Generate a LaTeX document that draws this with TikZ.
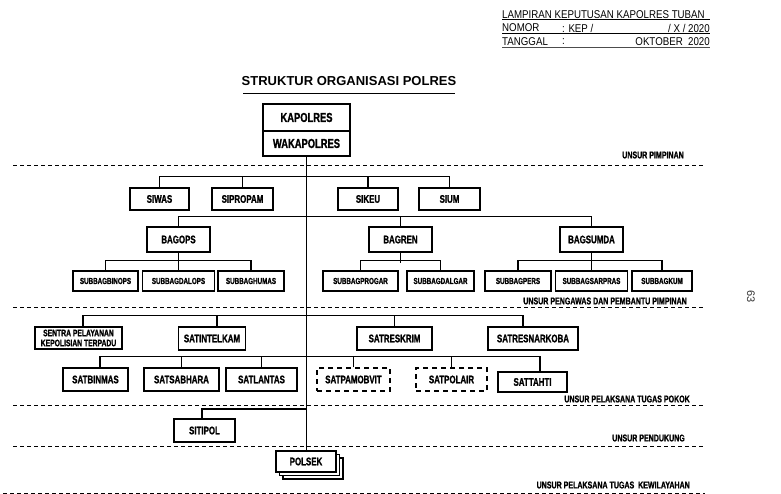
\documentclass[tikz,border=0pt]{standalone}
\usepackage{fontspec}
\setmainfont{Liberation Sans}
\newfontfamily\narrowfont[FakeStretch=0.72, FakeBold=1.2]{Liberation Sans Bold}
\newfontfamily\hdrfont[FakeStretch=0.86]{Liberation Sans}
\begin{document}
\begin{tikzpicture}[x=1pt,y=-1pt,
  box/.style={draw, line width=1.4pt, inner sep=0pt, align=center, fill=white,
    font=\narrowfont\fontsize{11}{12}\selectfont},
  bigbox/.style={box, font=\narrowfont\fontsize{13}{14}\selectfont},
  sbox/.style={box, minimum height=20pt, font=\narrowfont\fontsize{8.7}{9.5}\selectfont},
  dbox/.style={box, dash pattern=on 5pt off 4pt},
  bus/.style={line width=1.1pt},
  sep/.style={line width=0.8pt, dash pattern=on 4pt off 3pt},
  unsur/.style={anchor=east, inner sep=0pt, font=\narrowfont\fontsize{9.8}{10.5}\selectfont},
  hdr/.style={inner sep=0pt, font=\hdrfont\fontsize{11.3}{12}\selectfont}
]
\useasboundingbox (0,0) rectangle (781,494);

% header
\node[hdr, anchor=west] (h1) at (502,15) {LAMPIRAN KEPUTUSAN KAPOLRES TUBAN};
\node[hdr, anchor=west] (h2a) at (502,28) {NOMOR};
\node[hdr, anchor=west] (h2b) at (562,28) {: KEP /};
\node[hdr, anchor=east] (h2c) at (710,28) {/ X / 2020};
\node[hdr, anchor=west] (h3a) at (502,42) {TANGGAL};
\node[hdr, anchor=west] (h3b) at (562,42) {:};
\node[hdr, anchor=east] (h3c) at (710,42) {OKTOBER\ \ 2020};
\draw[line width=0.8pt] (502,19.5) -- (710,19.5);
\draw[line width=0.8pt] (502,33) -- (710,33);
\draw[line width=1.5pt, black!70] (502,47.5) -- (710,47.5);

% title
\node[inner sep=0pt, font=\bfseries\fontsize{13}{15}\selectfont] (title) at (349,81) {STRUKTUR ORGANISASI POLRES};
\draw[line width=0.8pt] (243,93) -- (455,93);

% page number
\node[rotate=-90, inner sep=0pt, font=\fontsize{11}{12}\selectfont, black!80] (pg) at (751,297) {63};

% separators
\draw[sep] (13,165) -- (705,165);
\draw[sep] (13,307) -- (705,307);
\draw[sep] (13,405) -- (705,405);
\draw[sep] (13,446) -- (705,446);
\draw[sep] (3,493) -- (705,493);

\node[unsur] (u1) at (684,155) {UNSUR PIMPINAN};
\node[unsur] (u2) at (687,301) {UNSUR PENGAWAS DAN PEMBANTU PIMPINAN};
\node[unsur] (u3) at (690,399) {UNSUR PELAKSANA TUGAS POKOK};
\node[unsur] (u4) at (685,438) {UNSUR PENDUKUNG};
\node[unsur] (u5) at (690,485) {UNSUR PELAKSANA TUGAS\ \ KEWILAYAHAN};

% pimpinan
\node[bigbox, minimum width=87pt, minimum height=27pt] (kapolres) at (306.5,117.5) {KAPOLRES};
\node[bigbox, minimum width=87pt, minimum height=25pt] (wakapolres) at (306.5,143.5) {WAKAPOLRES};

% row 1
\node[box, minimum width=59pt, minimum height=22pt] (siwas) at (159.5,199) {SIWAS};
\node[box, minimum width=61pt, minimum height=22pt] (sipropam) at (242.5,199) {SIPROPAM};
\node[box, minimum width=60pt, minimum height=22pt] (sikeu) at (368,199) {SIKEU};
\node[box, minimum width=61pt, minimum height=22pt] (sium) at (449.5,199) {SIUM};

% row 2
\node[box, minimum width=63pt, minimum height=25pt] (bagops) at (178.5,239.5) {BAGOPS};
\node[box, minimum width=63pt, minimum height=25pt] (bagren) at (400.5,239.5) {BAGREN};
\node[box, minimum width=63pt, minimum height=25pt] (bagsumda) at (591.5,239.5) {BAGSUMDA};

% sub rows
\node[sbox, minimum width=65pt] (binops) at (105.5,281) {SUBBAGBINOPS};
\node[sbox, minimum width=72pt] (dalops) at (178.5,281) {SUBBAGDALOPS};
\node[sbox, minimum width=66pt] (humas) at (251,281) {SUBBAGHUMAS};
\node[sbox, minimum width=75pt] (progar) at (360.5,281) {SUBBAGPROGAR};
\node[sbox, minimum width=67pt] (dalgar) at (440.5,281) {SUBBAGDALGAR};
\node[sbox, minimum width=66pt] (pers) at (518,281) {SUBBAGPERS};
\node[sbox, minimum width=72pt] (sarpras) at (591.5,281) {SUBBAGSARPRAS};
\node[sbox, minimum width=60pt] (kum) at (662,281) {SUBBAGKUM};

% row 3
\node[box, minimum width=87pt, minimum height=22pt, font=\narrowfont\fontsize{9.4}{10}\selectfont] (sentra) at (78.5,338) {SENTRA PELAYANAN\\KEPOLISIAN TERPADU};
\node[box, minimum width=67pt, minimum height=23pt] (intelkam) at (212,338.5) {SATINTELKAM};
\node[box, minimum width=75pt, minimum height=23pt] (reskrim) at (394.5,338.5) {SATRESKRIM};
\node[box, minimum width=90pt, minimum height=23pt] (narkoba) at (533,338.5) {SATRESNARKOBA};

% row 4
\node[box, minimum width=65pt, minimum height=23pt] (binmas) at (95.5,379.5) {SATBINMAS};
\node[box, minimum width=75pt, minimum height=23pt] (sabhara) at (181.5,379.5) {SATSABHARA};
\node[box, minimum width=71pt, minimum height=23pt] (lantas) at (261.5,379.5) {SATLANTAS};
\node[dbox, minimum width=73pt, minimum height=23pt] (pamobvit) at (353.5,379.5) {SATPAMOBVIT};
\node[dbox, minimum width=71pt, minimum height=23pt] (polair) at (451.5,379.5) {SATPOLAIR};
\node[box, minimum width=69pt, minimum height=20pt] (tahti) at (532.5,382) {SATTAHTI};

% row 5
\node[box, minimum width=61pt, minimum height=23pt] (sitipol) at (204.5,430.5) {SITIPOL};

% polsek stack
\node[box, minimum width=60pt, minimum height=21pt] (polsek3) at (313,468.5) {};
\node[box, minimum width=60pt, minimum height=21pt] (polsek2) at (309.5,465) {};
\node[box, minimum width=60pt, minimum height=21pt] (polsek) at (306,461.5) {POLSEK};

% connectors
\draw[bus] (wakapolres.south) -- (wakapolres.south |- polsek.north);
\draw[bus] (siwas.north) -- ++(0,-11) -| (sium.north);
\draw[bus] (sipropam.north) -- ++(0,-11);
\draw[bus] (sikeu.north) -- ++(0,-11);

\draw[bus] (bagops.north) -- ++(0,-10) -| (bagsumda.north);
\draw[bus] (bagren.north) -- ++(0,-10);

\draw[bus] (bagops.south) -- (dalops.north);
\draw[bus] (binops.north) -- ++(0,-10) -| (humas.north);
\draw[bus] (bagren.south) -- ++(0,10);
\draw[bus] (progar.north) -- ++(0,-10) -| (dalgar.north);
\draw[bus] (bagsumda.south) -- (sarpras.north);
\draw[bus] (pers.north) -- ++(0,-10) -| (kum.north);

\draw[bus] ([xshift=4.5pt]sentra.north) -- ++(0,-11) -| ([xshift=-10pt]narkoba.north);
\draw[bus] ([xshift=5pt]intelkam.north) -- ++(0,-11);
\draw[bus] (reskrim.north) -- ++(0,-11);

\draw[bus] ([xshift=4.5pt]binmas.north) -- ++(0,-11) -| ([xshift=7.5pt]tahti.north);
\draw[bus] (sabhara.north) -- ++(0,-11);
\draw[bus] (lantas.north) -- ++(0,-11);
\draw[bus] (pamobvit.north) -- ++(0,-11);
\draw[bus] (polair.north) -- ++(0,-11);

\coordinate (j5) at (306.5,409);
\draw[bus] ([xshift=-2.5pt]sitipol.north) |- (j5);
\end{tikzpicture}
\end{document}
